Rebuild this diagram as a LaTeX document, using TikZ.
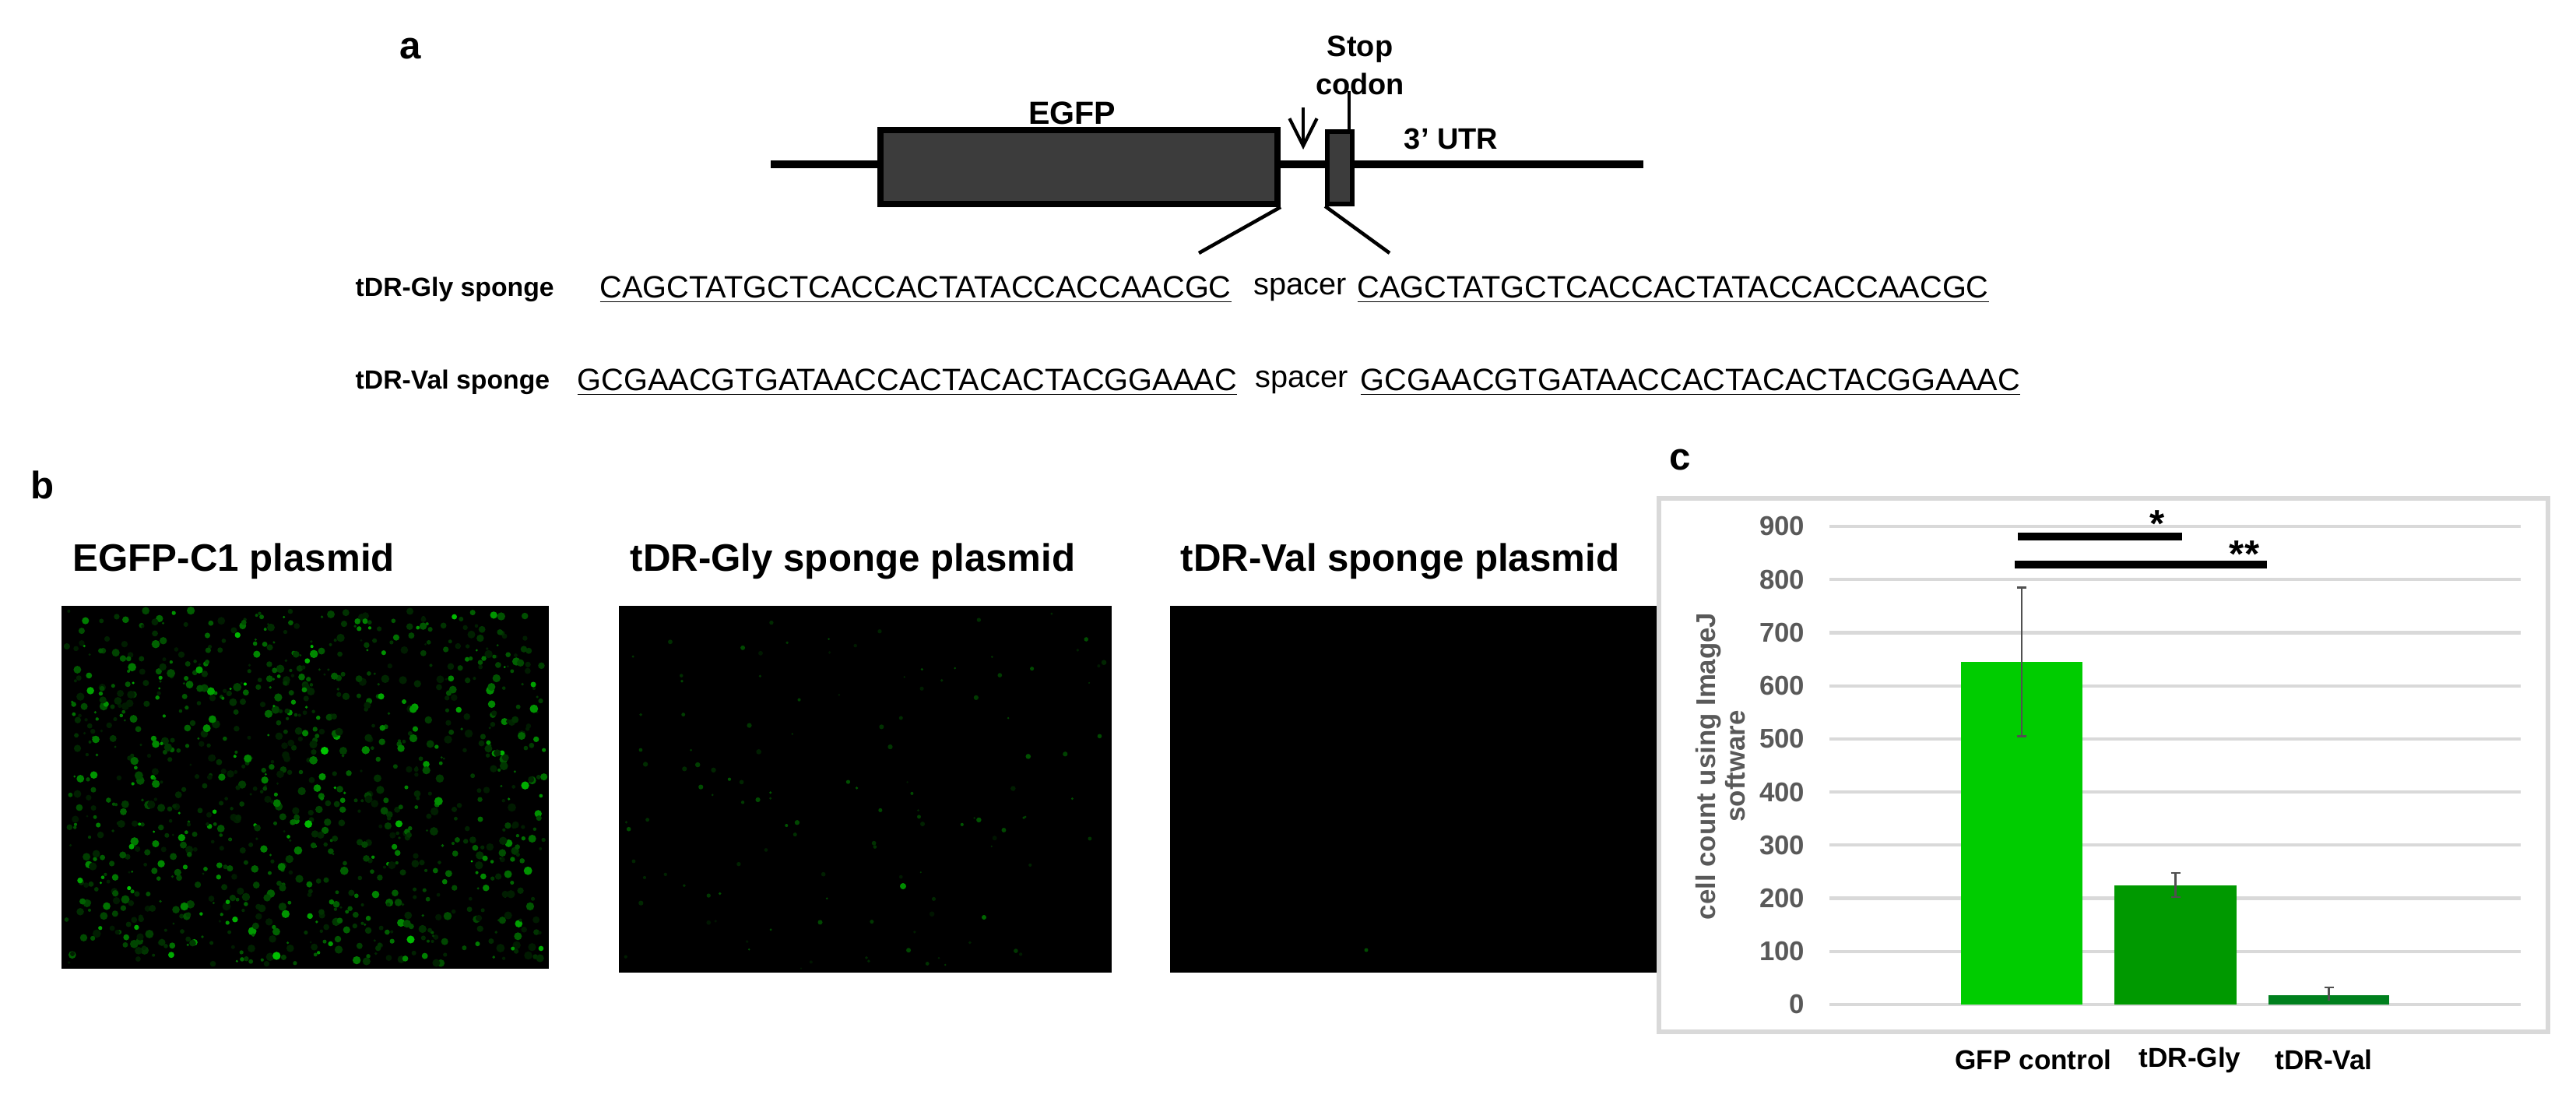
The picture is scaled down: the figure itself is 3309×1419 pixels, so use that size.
\documentclass[tikz,border=0pt]{standalone}
\usepackage{fontspec}
\setmainfont{Liberation Sans}
\usetikzlibrary{arrows.meta}
\begin{document}
\begin{tikzpicture}[x=0.01cm,y=-0.01cm,
  lbl/.style={font=\fontsize{14}{14}\selectfont\bfseries, inner sep=0},
  seq/.style={font=\fontsize{11.3}{12}\selectfont, inner sep=0, anchor=west},
  rowlbl/.style={font=\fontsize{9.6}{10}\selectfont\bfseries, inner sep=0, anchor=west},
  ptitle/.style={font=\fontsize{14}{14}\selectfont\bfseries, inner sep=0, anchor=west},
  tick/.style={font=\fontsize{9.9}{10}\selectfont\bfseries, text=axgray, inner sep=0, anchor=east},
  cat/.style={font=\fontsize{10}{10}\selectfont\bfseries, inner sep=0},
  grid/.style={draw=gridgray, line width=1.2pt},
  gene/.style={draw=black, line width=2.2pt, fill=boxgray},
  errb/.style={draw=errgray, line width=0.8pt}]
\definecolor{boxgray}{HTML}{3C3C3C}
\definecolor{gridgray}{HTML}{D9D9D9}
\definecolor{axgray}{HTML}{595959}
\definecolor{errgray}{HTML}{505050}
\definecolor{gA}{HTML}{00CC00}
\definecolor{gB}{HTML}{009900}
\definecolor{gC}{HTML}{00801E}
\useasboundingbox (0,0) rectangle (3309,1419);
% ---------- panel a ----------
\node[lbl] (la) at (527,63) {a};
\coordinate (l0) at (990,211);
\coordinate (l1) at (2111,211);
\draw[line width=2.6pt] (l0) -- (l1);
\node[gene, minimum width=5.10cm, minimum height=0.95cm, inner sep=0] (egfp) at (1386,214.5) {};
\node[gene, minimum width=0.32cm, minimum height=0.93cm, inner sep=0, line width=1.6pt] (stop) at (1721,215.5) {};
\node[font=\fontsize{11.7}{12}\selectfont\bfseries, inner sep=0] (egfpl) at (1377,145) {EGFP};
\node[font=\fontsize{10.8}{12}\selectfont\bfseries, align=center, inner sep=0] (stopl) at (1747,84) {Stop\\[2pt]codon};
\node[font=\fontsize{10.8}{12}\selectfont\bfseries, inner sep=0] (utr) at (1864,178) {3' UTR};
\coordinate (sl) at (1733,117);
\draw[line width=1pt] (sl) -- (stop.north -| sl);
\coordinate (ar0) at (1674,138);
\coordinate (ar1) at (1674,192);
\draw[line width=1.2pt,-{Straight Barb[length=10pt,width=10pt]}] (ar0) -- (ar1);
\coordinate (d1) at (1540,325);
\coordinate (d2) at (1785,325);
\draw[line width=1.3pt] (egfp.south east) -- (d1);
\draw[line width=1.3pt] (stop.south west) -- (d2);
% sequences
\node[rowlbl] (g0) at (456,372) {tDR-Gly sponge};
\node[seq] (g1) at (770,372) {\underline{CAGCTATGCTCACCACTATACCACCAACGC}};
\node[seq] (g2) at (1610,372) {spacer};
\node[seq] (g3) at (1743,372) {\underline{CAGCTATGCTCACCACTATACCACCAACGC}};
\node[rowlbl] (v0) at (456,491) {tDR-Val sponge};
\node[seq] (v1) at (741,491) {\underline{GCGAACGTGATAACCACTACACTACGGAAAC}};
\node[seq] (v2) at (1612,491) {spacer};
\node[seq] (v3) at (1747,491) {\underline{GCGAACGTGATAACCACTACACTACGGAAAC}};
% ---------- panel b ----------
\node[lbl] (lb) at (55,623) {b};
\node[ptitle] (t1) at (93,721) {EGFP-C1 plasmid};
\node[ptitle] (t2) at (809,721) {tDR-Gly sponge plasmid};
\node[ptitle] (t3) at (1516,721) {tDR-Val sponge plasmid};
\fill[black] (79,778) rectangle (705,1244);
\fill[black] (795,778) rectangle (1428,1249);
\fill[black] (1503,778) rectangle (2134,1249);
\pgfmathsetseed{11}
\foreach \i in {1,...,1100}{
  \pgfmathsetmacro{\px}{85+rnd*614}
  \pgfmathsetmacro{\py}{784+rnd*454}
  \pgfmathsetmacro{\pr}{1.5+rnd*4}
  \pgfmathsetmacro{\pc}{10+rnd*rnd*75}
  \fill[green!\pc!black] (\px,\py) circle[radius=\pr];
}
\foreach \i in {1,...,120}{
  \pgfmathsetmacro{\px}{800+rnd*622}
  \pgfmathsetmacro{\py}{784+rnd*460}
  \pgfmathsetmacro{\pr}{1.2+rnd*2.2}
  \pgfmathsetmacro{\pc}{8+rnd*25}
  \fill[green!\pc!black] (\px,\py) circle[radius=\pr];
}
\fill[green!55!black] (1160,1138) circle[radius=4];
\fill[green!40!black] (1264,1178) circle[radius=3];
\fill[green!30!black] (1755,1220) circle[radius=2.5];
% ---------- panel c ----------
\node[lbl] (lc) at (2158,590) {c};
\draw[draw=gridgray, line width=1.5pt] (2131,640) rectangle (3273,1325);
\foreach \v in {0,100,...,900}{
  \draw[grid] (2350,{1290-0.6822*\v}) -- (3238,{1290-0.6822*\v});
  \node[tick] at (2319,{1290-0.6822*\v}) {\v};
}
\node[font=\fontsize{9.9}{11}\selectfont\bfseries, text=axgray, rotate=90, align=center, inner sep=0] (ytitle) at (2210,984) {cell count using ImageJ\\software};
\fill[gA] (2519,1290) rectangle (2675,850);
\fill[gB] (2716,1290) rectangle (2873,1136.5);
\fill[gC] (2914,1290) rectangle (3069,1277.7);
\draw[errb] (2597,754.5) -- (2597,945.5) (2591,754.5) -- (2603,754.5) (2591,945.5) -- (2603,945.5);
\draw[errb] (2794.5,1121) -- (2794.5,1152) (2788.5,1121) -- (2800.5,1121) (2788.5,1152) -- (2800.5,1152);
\draw[errb] (2991.5,1268) -- (2991.5,1284.5) (2985.5,1268) -- (2997.5,1268);
\coordinate (s1a) at (2592,689);
\coordinate (s1b) at (2803,689);
\coordinate (s2a) at (2588,725);
\coordinate (s2b) at (2912,725);
\draw[line width=2.6pt] (s1a) -- (s1b);
\draw[line width=2.6pt] (s2a) -- (s2b);
\node[font=\fontsize{14}{14}\selectfont\bfseries, inner sep=0] (st1) at (2771,673) {*};
\node[font=\fontsize{14}{14}\selectfont\bfseries, inner sep=0] (st2) at (2883,712) {**};
\node[cat] (c1) at (2612,1361) {GFP control};
\node[cat] (c2) at (2813,1361) {tDR-Gly};
\node[cat] (c3) at (2985,1361) {tDR-Val};
\end{tikzpicture}
\end{document}
